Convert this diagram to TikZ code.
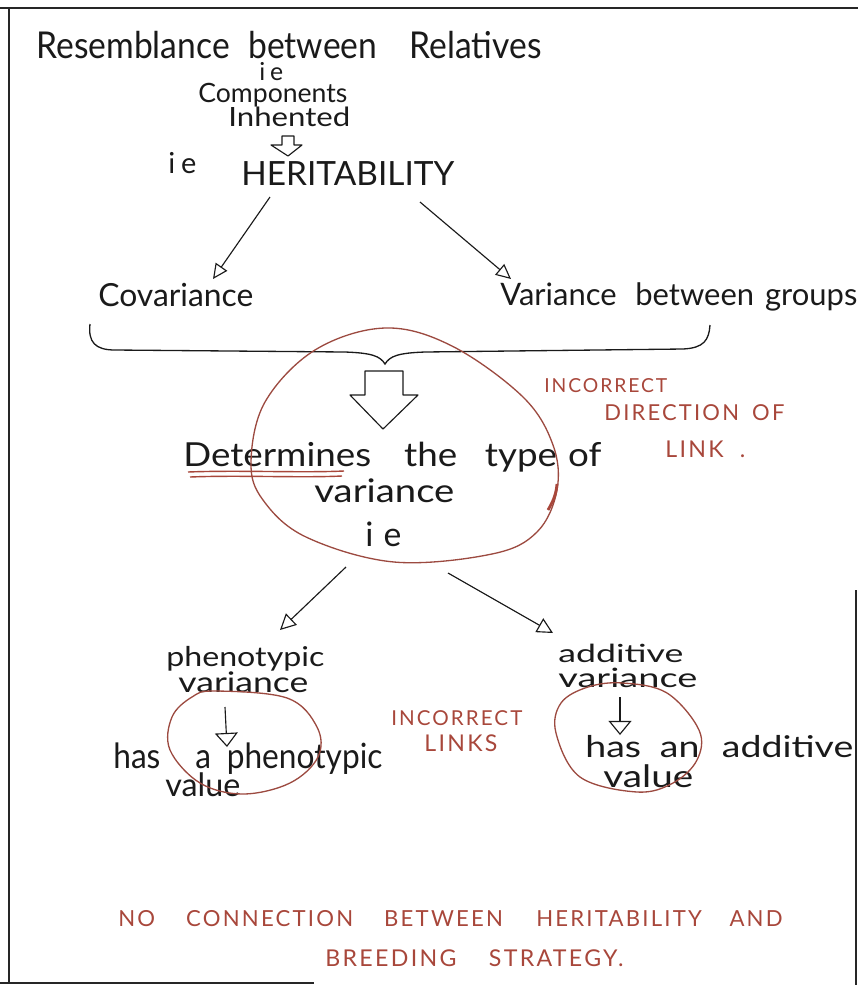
\documentclass[tikz,border=0pt]{standalone}
\usepackage{fontspec}
\setmainfont{Lato}
\newfontfamily\capsfont{Lato}[LetterSpace=10]
\usetikzlibrary{arrows.meta}
\newlength\pxu
\setlength\pxu{0.02cm}
% scale a piece of text to a given width in drawing units,
% with an optional vertical stretch
\newcommand\fitw[3][1]{\scalebox{1}[#1]{\resizebox{#2\pxu}{!}{#3}}}
\definecolor{ink}{HTML}{1A1A1A}
\definecolor{pen}{HTML}{A8473B}
\definecolor{loopcol}{HTML}{9C4A40}
\tikzset{
  hand/.style={anchor=base west, inner sep=0pt, text=ink},
  note/.style={anchor=base west, inner sep=0pt, text=pen, font=\capsfont},
  link/.style={draw=ink, line width=0.65pt, -{Triangle[open,length=8.5pt,width=8pt]}},
  biglink/.style={draw=ink, line width=0.65pt, -{Triangle[open,length=9pt,width=9pt]}},
  downlink/.style={draw=ink, line width=0.65pt, -{Triangle[open,length=8pt,width=13pt]}},
  blockarrow/.style={draw=ink, line width=0.65pt, line join=round},
  loop/.style={draw=loopcol, line width=0.75pt},
  frame/.style={draw=black!85, line width=1.6pt},
}
\begin{document}
\begin{tikzpicture}[x=0.02cm,y=-0.02cm]
\useasboundingbox (0,0) rectangle (858,985);

% sheet edges
\draw[frame] (0,8) -- (858,8);
\draw[frame] (9,8) -- (9,983);
\draw[frame] (856,590) -- (856,985);
\draw[frame] (0,983) -- (314,983);

% top of the map
\node[hand] (title) at (36,58) {\fitw[1.1]{505}{Resemblance\hspace{.3em} between\hspace{.7em} Relatives}};
\node[hand] (ie1) at (259,80) {\fitw{24}{i\hspace{.2em}e}};
\node[hand] (comp) at (198,102) {\fitw{149}{Components}};
\node[hand] (inher) at (228,126) {\fitw[0.85]{122}{Inhented}};
\node[hand] (ie2) at (168,173) {\fitw{28}{i\hspace{.2em}e}};
\node[hand] (herit) at (241,185) {\fitw{213}{HERITABILITY}};

% hollow block arrow into HERITABILITY
\draw[blockarrow] (282,136) -- (294,136) -- (294,145) -- (302,145) -- (288,156)
  -- (271,145) -- (282,145) -- cycle;

\node[hand] (cov) at (98,306) {\fitw{155}{Covariance}};
\node[hand] (vbg) at (500,305) {\fitw{357}{Variance\hspace{.35em} between\hspace{.1em} groups}};

\coordinate (hl) at (270,197);
\coordinate (hr) at (420,202);
\coordinate (cl) at (213,279);
\coordinate (vl) at (511,279);
\draw[link] (hl) -- (cl);
\draw[link] (hr) -- (vl);

% brace gathering both branches
\draw[draw=ink, line width=0.75pt]
  (90,324) .. controls (88,342) and (95,350) .. (115,350)
  -- (345,352) .. controls (372,353) and (380,356) .. (385,364)
  .. controls (390,356) and (398,353) .. (425,352)
  -- (683,349) .. controls (704,348) and (709,340) .. (710,325);

% large hollow arrow
\draw[blockarrow] (365,371) -- (403,371) -- (403,395) -- (418,395) -- (383,429)
  -- (350,395) -- (365,395) -- cycle;

% middle statement
\node[hand] (det) at (183,466) {\fitw[0.9]{418}{Determines\hspace{.9em}the\hspace{.75em}type\hspace{.3em}of}};
\node[hand] (var1) at (314,502) {\fitw[0.85]{140}{variance}};
\node[hand] (ie3) at (365,546) {\fitw{36}{i\hspace{.3em}e}};

% red marks around the middle
\draw[draw=pen, line width=0.8pt] (188,472) .. controls (240,470) and (300,473) .. (344,471);
\draw[draw=pen, line width=0.8pt] (190,477) .. controls (240,475) and (300,478) .. (342,476);
\draw[loop] plot[smooth cycle, tension=0.6] coordinates {
  (385,328) (452,346) (523,397) (553,445) (557,490) (537,532) (492,554)
  (394,562) (306,537) (263,500) (251,462) (265,402) (315,350)};
\draw[draw=pen, line width=1.6pt] (557,484) .. controls (556,496) and (552,503) .. (548,510);

\node[note] (inc1) at (544,392) {\fitw{123}{INCORRECT}};
\node[note] (dir) at (604,420) {\fitw{180}{DIRECTION\hspace{.6em}OF}};
\node[note] (lnk) at (665,457) {\fitw{80}{L\hspace{.1em}I\hspace{.1em}N\hspace{.1em}K\hspace{.7em}.}};

% two kinds of variance
\coordinate (il) at (346,567);
\coordinate (ir) at (448,573);
\coordinate (pl) at (280,630);
\coordinate (ar) at (553,633);
\draw[biglink] (il) -- (pl);
\draw[biglink] (ir) -- (ar);

\node[hand] (phen) at (166,666) {\fitw[0.85]{158}{phenotypic}};
\node[hand] (var2) at (178,692) {\fitw[0.8]{130}{variance}};
\node[hand] (hasp) at (113,768) {\fitw[1.1]{269}{has\hspace{1.1em}a\hspace{.5em}phenotypic}};
\node[hand] (val1) at (165,796) {\fitw{75}{value}};

\node[hand] (add) at (558,662) {\fitw[0.7]{125}{additive}};
\node[hand] (var3) at (558,687) {\fitw[0.7]{139}{variance}};
\node[hand] (hasa) at (585,757) {\fitw[0.8]{268}{has\hspace{.5em}an\hspace{.6em}additive}};
\node[hand] (val2) at (603,787) {\fitw[0.8]{90}{value}};

\coordinate (pv) at (225,707);
\coordinate (pa) at (227,747);
\coordinate (av) at (620,697);
\coordinate (aa) at (620,735);
\draw[downlink] (pv) -- (pa);
\draw[downlink] (av) -- (aa);

\draw[loop] plot[smooth cycle, tension=0.6] coordinates {
  (215,691) (287,698) (317,727) (318,757) (290,783) (243,794)
  (200,783) (170,750) (172,717) (192,697)};
\draw[loop] plot[smooth cycle, tension=0.6] coordinates {
  (623,683) (667,693) (699,730) (697,760) (673,783) (637,792)
  (580,777) (556,733) (561,703) (588,687)};

\node[note] (inc2) at (391,725) {\fitw{131}{INCORRECT}};
\node[note] (lnks) at (424,751) {\fitw{73}{LINKS}};

% closing remark
\node[note] (rem1) at (118,926) {\fitw{664}{NO\hspace{1.4em}CONNECTION\hspace{1.4em}BETWEEN\hspace{1.5em}HERITABILITY\hspace{1.25em}AND}};
\node[note] (rem2) at (325,966) {\fitw{298}{BREEDING\hspace{1.4em}STRATEGY.}};
\end{tikzpicture}
\end{document}
